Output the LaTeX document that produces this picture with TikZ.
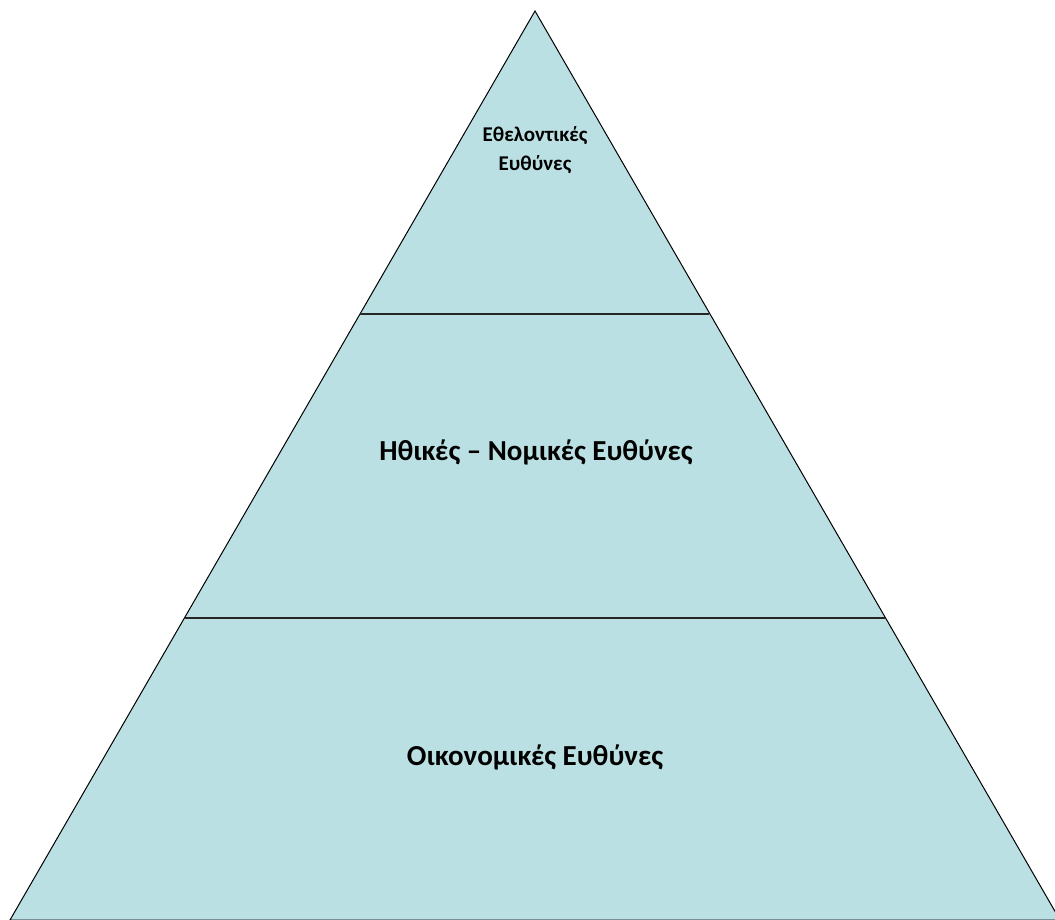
\documentclass[tikz,border=0pt]{standalone}
\usepackage{fontspec}
\setmainfont{Carlito}
\usepackage{xcolor}
\definecolor{pyramidfill}{RGB}{187,224,227}

\begin{document}
\begin{tikzpicture}[x=1pt, y=-1pt,
		level/.style={font=\bfseries\fontsize{29}{35}\selectfont, align=center},
		toplevel/.style={font=\bfseries\fontsize{21}{29}\selectfont, align=center}]
			% Canvas
			\useasboundingbox (0,0) rectangle (1055,920);
			\clip (0,0) rectangle (1055,920);

			% Pyramid corners
			\coordinate (apex) at (535,11);
			\coordinate (bl) at (10,920);
			\coordinate (br) at (1060,920);

			% Pyramid body
			\filldraw[fill=pyramidfill, draw=black, line width=1pt] (apex) -- (bl) -- (br) -- cycle;

			% Dividing lines
			\draw[line width=2pt, black!85] (360,314) -- (709,314);
			\draw[line width=2pt, black!85] (185,618) -- (885,618);

			% Level labels
			\node[toplevel] (vol) at (535,150) {Εθελοντικές\\Ευθύνες};
			\node[level] (eth) at (536,452) {Ηθικές – Νομικές Ευθύνες};
			\node[level] (eco) at (535,757) {Οικονομικές Ευθύνες};
		\end{tikzpicture}
\end{document}
